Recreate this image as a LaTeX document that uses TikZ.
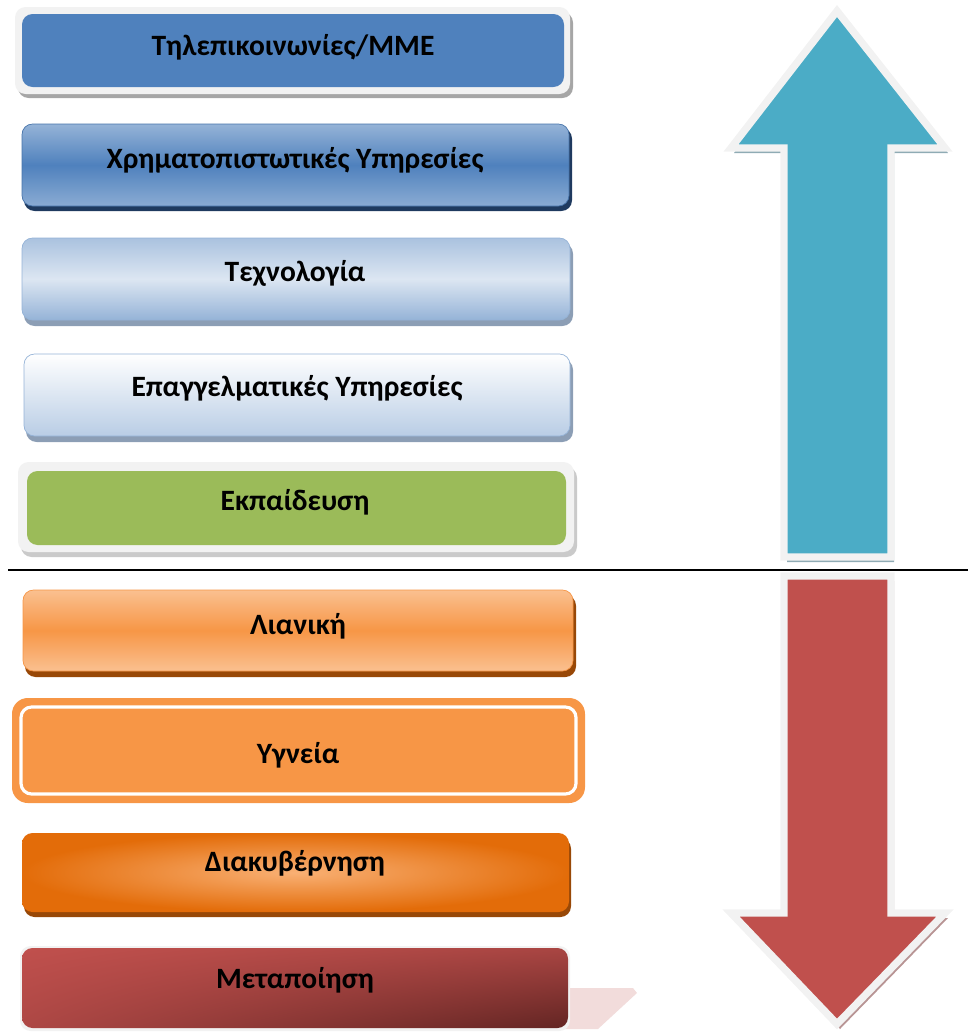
\documentclass[tikz,border=0pt]{standalone}
\usepackage{fontspec}
\setmainfont{Carlito}
\usepackage{xcolor}
\usetikzlibrary{shadings}
\definecolor{blueA}{HTML}{4F81BD}
\definecolor{blueL}{HTML}{95B3D7}
\definecolor{blueP}{HTML}{DCE6F2}
\definecolor{blueM}{HTML}{B9CDE5}
\definecolor{navy}{HTML}{1F3A5F}
\definecolor{framegray}{HTML}{F2F2F2}
\definecolor{shadowgray}{HTML}{A6A6A6}
\definecolor{shadowblue}{HTML}{8C9EB5}
\definecolor{greenA}{HTML}{9BBB59}
\definecolor{orangeA}{HTML}{F79646}
\definecolor{orangeL}{HTML}{FAC090}
\definecolor{orangeD}{HTML}{E36C09}
\definecolor{brownA}{HTML}{984807}
\definecolor{redA}{HTML}{C0504D}
\definecolor{redD}{HTML}{632523}
\definecolor{pinkA}{HTML}{F2DCDB}
\definecolor{tealA}{HTML}{4BACC6}
\definecolor{tealS}{HTML}{8FABB4}
\definecolor{redS}{HTML}{B89494}
\begin{document}
\begin{tikzpicture}[x=.02cm,y=-.02cm,
  lbl/.style={font=\fontsize{16.8}{19}\selectfont\bfseries, inner sep=0pt},
  rc/.style={rounded corners=6pt}]
\useasboundingbox (0,0) rectangle (968,1035);
% ligne de separation
\draw[line width=.7pt] (8,570) -- (968,570);
% Telecom
\fill[shadowgray, rc] (18,12) rectangle (573,98);
\fill[framegray, rc] (15,7) rectangle (570,94);
\fill[blueA, rc] (22,14) rectangle (564,87);
\node[lbl] (telecom) at (293,47) {Τηλεπικοινωνίες/ΜΜΕ};
% Finance
\fill[navy, rc] (24,128) rectangle (572,211);
\shade[rc, top color=blueL, bottom color=blueL!85!blueA, middle color=blueA, draw=blueA!90!black, thin] (22,124) rectangle (569,206);
\node[lbl] (finance) at (295,160) {Χρηματοπιστωτικές Υπηρεσίες};
% Tech
\fill[shadowblue, rc] (24,243) rectangle (573,326);
\shade[rc, top color=blueL!70!blueP, bottom color=blueL, middle color=blueP, draw=blueL, thin] (22,238) rectangle (570,320);
\node[lbl] (tech) at (295,273) {Τεχνολογία};
% Prof
\fill[shadowblue, rc] (26,359) rectangle (573,442);
\shade[rc, top color=white, bottom color=blueM, draw=blueL, thin] (24,354) rectangle (570,436);
\node[lbl] (prof) at (297,388) {Επαγγελματικές Υπηρεσίες};
% Edu
\fill[shadowgray!60, rc] (21,467) rectangle (577,557);
\fill[framegray, rc] (18,462) rectangle (574,552);
\fill[greenA, rc] (27,471) rectangle (566,545);
\node[lbl] (edu) at (295,502) {Εκπαίδευση};
% Retail
\fill[brownA, rc] (25,595) rectangle (576,677);
\shade[rc, top color=orangeL, bottom color=orangeL, middle color=orangeA, draw=orangeA, thin] (23,590) rectangle (573,671);
\node[lbl] (retail) at (298,626) {Λιανική};
% Health
\fill[orangeA, rounded corners=9pt] (12,698) rectangle (585,803);
\draw[white, line width=1.8pt, rc] (21,707) rectangle (576,794);
\node[lbl] (health) at (298,755) {Υγνεία};
% Gov
\fill[brownA, rc] (24,838) rectangle (571,917);
\shade[rc, inner color=orangeA!75!white, outer color=orangeD] (22,833) rectangle (569,912);
\node[lbl] (gov) at (295,863) {Διακυβέρνηση};
% Manuf
\fill[pinkA] (560,988) -- (633,988) -- (637,993) -- (598,1029) -- (560,1029) -- cycle;
\fill[framegray, rc] (20,946) rectangle (570,1031);
\shade[rc, upper left=redA, upper right=redA!75!redD, lower left=redA!80!redD, lower right=redD] (22,948) rectangle (568,1028);
\node[lbl] (manuf) at (295,980) {Μεταποίηση};
% fleche haut
\fill[tealS, shift={(3,5)}] (837,11) -- (945,148) -- (891,148) -- (891,557) -- (784,557) -- (784,148) -- (731,148) -- cycle;
\draw[framegray, line width=4.2pt, fill=tealA] (837,11) -- (945,148) -- (891,148) -- (891,557) -- (784,557) -- (784,148) -- (731,148) -- cycle;
% fleche bas
\fill[redS, shift={(3,5)}] (784,576) -- (891,576) -- (891,913) -- (945,913) -- (837,1024) -- (731,913) -- (784,913) -- cycle;
\draw[framegray, line width=4.2pt, fill=redA] (784,576) -- (891,576) -- (891,913) -- (945,913) -- (837,1024) -- (731,913) -- (784,913) -- cycle;
\end{tikzpicture}
\end{document}
